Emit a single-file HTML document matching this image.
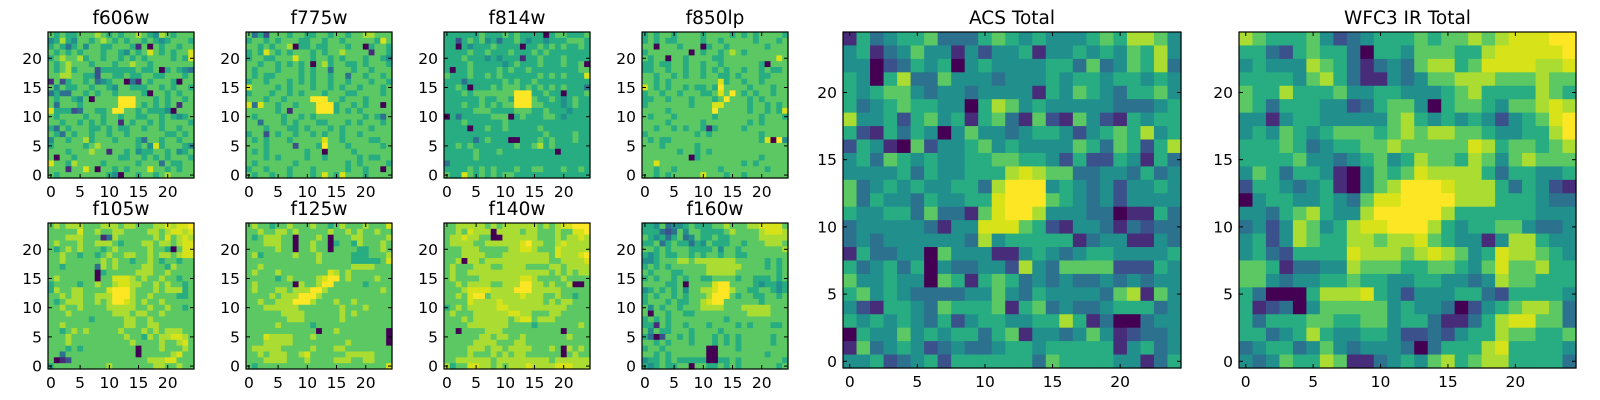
<!DOCTYPE html>
<html><head><meta charset="utf-8"><style>
html,body{margin:0;padding:0;background:#fff;}
svg{display:block;font-family:"DejaVu Sans","Liberation Sans",sans-serif;}
</style></head>
<body>
<svg id="fig" width="1600" height="400" viewBox="0 0 1600 400" xmlns="http://www.w3.org/2000/svg"></svg>
<script>
// Heatmap values (0-9), rows listed top (y=24) to bottom (y=0)
const f606w = [
"6565566676565667654765666","4575466567656566565456665","5653564665566651606566566","6565656665665465686565668",
"5676675665665656566665658","6567666566656676656666666","6567566625555556556056543","6677665526655655665566656",
"1625665634566031656665066","6465566566546655566565665","3533665656656666506656566","6566546066669996665656656",
"6366656666669996565656166","8555236655699665655540666","6566665665665665566565456","6656656565661656656566665",
"5365666556565566566566566","6536566566566566666655656","4665667566656665366566566","5666665676666665648566654",
"6665666766166564556656456","6066566666665566565656665","8665766665666665666365566","6661668606656566686656566",
"6566666666540665665676666"];
const f775w = [
"6352666566556656656677666","5665656665566566566666586","6656566705565566656605665","5658656566656566766661665",
"5665566686656656566656654","6656656565606756655656665","6566656665656636665665666","6565566665656656636656656",
"5665666565656656656665665","8666656566656656566566656","5666566565666566655666656","6665665666699966566656666",
"8386656656669995665656606","6666656166669995656566666","6566665665656666666656536","6636665656665566656566656",
"6665666556566656566665666","5662656656656566566566666","6565666566666866566665566","6665666626665966656666656",
"6565666666566066665666666","6665656666566566666565566","6566666656666666656566665","5665666566656666656656606",
"6566566566656865866656666"];
const f814w = [
"5555556555656555505665556","5525656453556545545556665","5505455565555055656565565","5555655655565556565555555",
"5556555454555155655565555","5555655555456555655565560","5055655556565565555555566","6555655656555555656565558",
"5553555555656556555555555","5565055565666565656565553","5556566666669995565505556","5555556556659996556545655",
"5556556565669996655545655","5555566655556665565554555","0535555566605655566545555","5556555555655555555555555",
"5555055655655555655555555","5555555555555555565555655","5555535655500555656555655","5565655555556556756555555",
"5555565556555555555055555","5555565555555555555555555","3555555555555555555555555","5555656565556556655565565",
"6558656565665555555555555"];
const f850lp = [
"5656656666566665656566665","5656556666566566666566656","6606665666056656666665666","5666666606566567656666666",
"6566066566665566666666686","5565566566566566666650666","5566566566565656656656556","6656656566566556566655666",
"6656566666666856656656666","8656566565565966665666566","5665665666556869656566566","5566566656665696665656666",
"5666666656668866665665656","6666566666669666665665658","6566656666665666666656665","6666566666566666665656666",
"6656656566515666656666666","5666666665656666666656666","6565566666666666666658094","6665666665666666666666666",
"6666665665656666666666666","6666666605666666666656666","6686666666666666656566666","6656656666666566666665666",
"6656566666866656656666666"];
const f105w = [
"6767776667776776667787889","6666686676677666677678878","6667776661376666667686787","6766676677765666776776788",
"6567676665676666676650688","6676656656766776676776788","6676666667676656676566566","6656666637676666776657666",
"6666666605666667776676666","6766666606688876766766566","5666656676678877667676656","5766776666899976667677756",
"6676776677799976676666556","6567776676799876766766666","6676676666777776676676656","6667666666677767766766666",
"6666666566666776676666666","6676666666666776677666666","6656767666667666767677766","6667666666666766576778876",
"6667666666666676666766786","6665656666666660666766676","6636666666666660666667866","6012666666666666677788666",
"5666666666766666667766766"];
const f125w = [
"6766566766676656766676668","6676677676666676676766766","6567776606667606667766667","6667776606676605665766676",
"6666676606676606666556676","6756666676667666665556667","6666666666667666665555568","6676666666666666667777666",
"6766676666666687676666666","6666656766667899676666766","6766666607667996666656666","6766677677799766666666676",
"6666767779997666666666666","6676677799976667667666666","6667777776666666766676666","6666667777666666767666666",
"6666666777666666766666666","6666676666656666666666666","6666666666660667666666660","6668777766676666666666660",
"6667777766666666676666660","6777776666676667766666666","6676777667866666677777666","6667777666766667776677666",
"6566666666666666666666668"];
const f140w = [
"6677777676777777676788999","6676877707777677666766889","6778776600777777666767787","6777766777777897766787777",
"6667776666677887666877777","6667777666777777776877789","6670776777777777776677778","6766677766777766667767777",
"6766777777777777776767677","6766667777777887666676666","6676777766777997767667006","6667888877779997777766666",
"6676899677777877766766566","6666877778777777767677666","5676777778877777777776666","6766677777788776667766666",
"6667677777767886777666666","6666777777766665666666676","6606666777666666666606666","6666667767766766666667666",
"6666677776667766666666666","6666777677677776667607676","6666766676767766666606766","6677777767777777776777777",
"7566887767677787777888777"];
const f160w = [
"5546344565556676667788886","5553236466555567666678887","6545356346556556666677777","5563565535465556656667776",
"6656566655556466566666667","5456556656566566556666666","4456667767777777666665656","5656566666677777766665656",
"6566655666677777666666656","5656656566556666566555656","6666556066668996666545545","4565656466778997665566545",
"5656656566679996566556656","5666565566789966666656666","6465665666777766677777666","6066566556666666667777666",
"5656566666666656666666666","5516566566656666565666556","6465566656666566666666666","5302665656665656566666566",
"6656566656665656566666566","5665666666600666566666666","6656566666600666666665666","4556565555500556566666665",
"5456556606655656566666656"];
const acsTotal = [
"1534556333565454445657764","4513464414244514454546574","4402354504544445536346573","5405733644434445455455454",
"5456643443444415465435564","5345655440576454444433345","7445256451563162164215455","5215354046443455424565745",
"2541062445645444465365257","4536545445566554252254153","4444535445557876633443534","6345454455379994543424454",
"6354435445589996543424444","5445536331689974443301153","3444443144888652144313233","3434444443745555513441143",
"1533440644411454345544445","5345350433442743666622254","6445440651565343433434344","5645433334464354444367164",
"4215543655561563433455534","5454543524554455751300344","0544645455356144346412334","1634542343345545555514534",
"4452345255555536555544135"];
const wfc3Total = [
"7655564234555656676788899","5532565530554666557888889","4544476531343677568888778","5555467531143466777666766",
"6557555644554445675555765","6535554423566405665466787","4414554444467545454245689","4546545666567677665445579",
"5556534556676666687566567","5555644345645766576467666","4653554104656877775355445","2554345104679998777535421",
"0455445436889999777555433","4435675447999997555555444","3424764578899975455664334","4524765577677865441477544",
"4532555587776787645877654","6651334476665566546866755","6643445565544554434766555","5300057778542444553255554",
"5123046666645443024567763","5355566556645531135788663","5534575445542232455766556","3455346434443035557855554",
"4346557611345467567755553"];

const titles = ["f606w","f775w","f814w","f850lp","f105w","f125w","f140w","f160w","ACS Total","WFC3 IR Total"];
const datasets = [f606w,f775w,f814w,f850lp,f105w,f125w,f140w,f160w,acsTotal,wfc3Total];
const tickValues = [0,5,10,15,20];
const N = 25;

// layout (not data)
const layout = [
 [48,32,146,146],[246,32,146,146],[444,32,146,146],[642,32,146,146],
 [48,223,146,146],[246,223,146,146],[444,223,146,146],[642,223,146,146],
 [843,32,338,336],[1239,32,337,336]
];

const VIR = ["#440154","#472c7a","#3b518b","#2c718e","#21908d","#27ad81","#5cc863","#aadc32","#d8e219","#fde725"];
function hexToRgb(h){return [parseInt(h.substr(1,2),16),parseInt(h.substr(3,2),16),parseInt(h.substr(5,2),16)];}
function viridis(t){
  t=Math.max(0,Math.min(1,t));
  const p=t*(VIR.length-1), i=Math.min(VIR.length-2,Math.floor(p)), f=p-i;
  const a=hexToRgb(VIR[i]), b=hexToRgb(VIR[i+1]);
  return "rgb("+a.map((v,k)=>Math.round(v+(b[k]-v)*f)).join(",")+")";
}

const NS="http://www.w3.org/2000/svg";
const svg=document.getElementById("fig");
function mk(tag,attrs,parent){const e=document.createElementNS(NS,tag);for(const k in attrs)e.setAttribute(k,attrs[k]);(parent||svg).appendChild(e);return e;}

datasets.forEach((data,pi)=>{
  const [X,Y,W,H]=layout[pi];
  const xs = v => X + (v+0.5)/N*W;
  const ys = v => Y + H - (v+0.5)/N*H;
  const g=mk("g",{});
  
  
  const cw=W/N, ch=H/N;
  data.forEach((rowStr,ri)=>{
    let s=(rowStr+"5555555555555555555555555").substr(0,N);
    const yv = N-1-ri;
    for(let c=0;c<N;c++){
      const v=parseInt(s[c],10);
      const r=mk("rect",{x:(xs(c)-cw/2).toFixed(2),y:(ys(yv)-ch/2).toFixed(2),width:(cw+0.6).toFixed(2),height:(ch+0.6).toFixed(2),fill:viridis(v/9)},g);
      
      
    }
  });
  const frame=mk("rect",{x:X,y:Y,width:W,height:H,fill:"none",stroke:"#000","stroke-width":1.2},g);
  
  
  const fs = 15.5;
  tickValues.forEach(t=>{
    const px=xs(t), py=ys(t);
    mk("line",{x1:px,y1:Y+H,x2:px,y2:Y+H-4,stroke:"#000","stroke-width":1},g);
    mk("line",{x1:px,y1:Y,x2:px,y2:Y+4,stroke:"#000","stroke-width":1},g);
    mk("line",{x1:X,y1:py,x2:X+4,y2:py,stroke:"#000","stroke-width":1},g);
    mk("line",{x1:X+W,y1:py,x2:X+W-4,y2:py,stroke:"#000","stroke-width":1},g);
    const xl=mk("text",{x:px,y:Y+H+19,"text-anchor":"middle","font-size":fs,fill:"#000"},g);
    xl.textContent=t;
    
    
    const yl=mk("text",{x:X-6,y:py+5.5,"text-anchor":"end","font-size":fs,fill:"#000"},g);
    yl.textContent=t;
    
    
  });
  const tt=mk("text",{x:X+W/2,y:Y-8,"text-anchor":"middle","font-size":18.5,fill:"#000"},g);
  tt.textContent=titles[pi];
  
  
});
</script>
</body></html>
